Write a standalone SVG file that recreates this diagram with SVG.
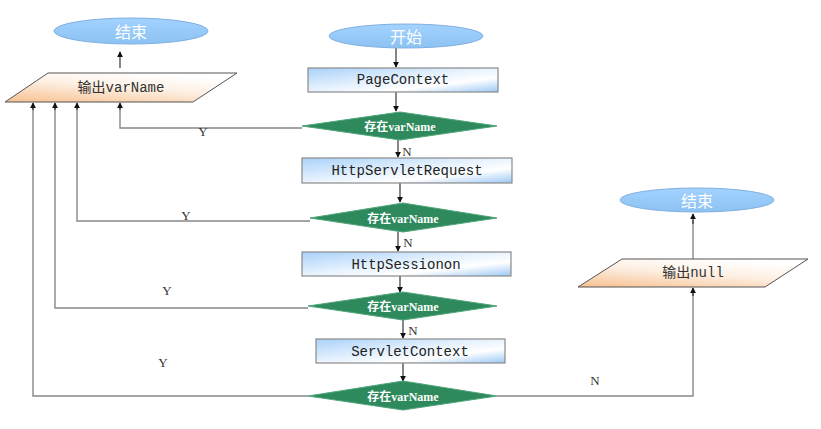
<svg xmlns="http://www.w3.org/2000/svg" width="821" height="429" viewBox="0 0 821 429">
<defs>
  <linearGradient id="gEll" x1="0" y1="0" x2="0" y2="1">
    <stop offset="0" stop-color="#a3d2ff"/>
    <stop offset="1" stop-color="#8cc2f2"/>
  </linearGradient>
  <linearGradient id="gRect" x1="0" y1="0" x2="1" y2="1">
    <stop offset="0" stop-color="#a9d1fa"/>
    <stop offset="0.45" stop-color="#e4f1fd"/>
    <stop offset="0.7" stop-color="#ffffff"/>
    <stop offset="1" stop-color="#9cc8f5"/>
  </linearGradient>
  <linearGradient id="gPara" x1="0" y1="1" x2="0.6" y2="0">
    <stop offset="0" stop-color="#f7c08f"/>
    <stop offset="0.6" stop-color="#fdf0e4"/>
    <stop offset="1" stop-color="#ffffff"/>
  </linearGradient>
  <marker id="arr" viewBox="0 0 8 8" refX="7" refY="4" markerWidth="6" markerHeight="6" orient="auto" markerUnits="userSpaceOnUse">
    <path d="M0,0 L8,4 L0,8 Z" fill="#111"/>
  </marker>
  <style>
    .ell { fill: url(#gEll); stroke: #7fb0e0; stroke-width: 1; }
    .ellt { font-family: "Noto Sans CJK SC", sans-serif; font-size: 16px; fill: #ffffff; text-anchor: middle; dominant-baseline: central; }
    .rect { fill: url(#gRect); stroke: #8a8a8a; stroke-width: 1.2; }
    .rt { font-family: "Liberation Mono", "Noto Sans CJK SC", monospace; font-size: 14px; fill: #222; text-anchor: middle; dominant-baseline: central; }
    .para { fill: url(#gPara); stroke: #555; stroke-width: 1; }
    .pt { font-family: "Liberation Mono", "Noto Sans CJK SC", monospace; font-size: 14px; fill: #333; text-anchor: middle; dominant-baseline: central; }
    .dia { fill: #2e8a5c; stroke: #4fa57a; stroke-width: 1; }
    .dt { font-family: "Liberation Serif", "Noto Sans CJK SC", serif; font-size: 12px; font-weight: bold; fill: #ffffff; text-anchor: middle; dominant-baseline: central; }
    .ln { fill: none; stroke: #888; stroke-width: 1.4; }
    .ar { fill: none; stroke: #222; stroke-width: 1.1; marker-end: url(#arr); }
    .lbl { font-family: "Liberation Serif", serif; font-size: 13px; fill: #333; text-anchor: middle; dominant-baseline: central; }
  </style>
</defs>
<rect width="821" height="429" fill="#ffffff"/>

<g id="connectors">
  <line class="ar" x1="396" y1="48" x2="396" y2="67"/>
  <line class="ar" x1="396" y1="92" x2="396" y2="111"/>
  <line class="ar" x1="398" y1="140" x2="398" y2="157"/>
  <line class="ar" x1="400" y1="183" x2="400" y2="202"/>
  <line class="ar" x1="398" y1="232" x2="398" y2="251"/>
  <line class="ar" x1="400" y1="276" x2="400" y2="292"/>
  <line class="ar" x1="403" y1="320" x2="403" y2="338"/>
  <line class="ar" x1="403" y1="363" x2="403" y2="381"/>
  <polyline class="ln" points="302,128 120,128 120,106"/>
  <line class="ar" x1="120" y1="110" x2="120" y2="103"/>
  <polyline class="ln" points="310,221 77,221 77,106"/>
  <line class="ar" x1="77" y1="110" x2="77" y2="103"/>
  <polyline class="ln" points="308,308 55,308 55,106"/>
  <line class="ar" x1="55" y1="110" x2="55" y2="103"/>
  <polyline class="ln" points="308,396 33,396 33,106"/>
  <line class="ar" x1="33" y1="110" x2="33" y2="103"/>
  <polyline class="ln" points="497,396 693,396 693,292"/>
  <line class="ar" x1="693" y1="296" x2="693" y2="288"/>
  <line class="ar" x1="120" y1="68" x2="120" y2="52"/>
  <line class="ln" x1="693" y1="259" x2="693" y2="220"/>
  <line class="ar" x1="693" y1="224" x2="693" y2="214"/>
  <text class="lbl" x="407" y="151">N</text>
  <text class="lbl" x="408" y="242">N</text>
  <text class="lbl" x="413" y="330">N</text>
  <text class="lbl" x="595" y="380">N</text>
  <text class="lbl" x="203" y="131">Y</text>
  <text class="lbl" x="186" y="215">Y</text>
  <text class="lbl" x="167" y="290">Y</text>
  <text class="lbl" x="163" y="362">Y</text>
</g>

<g id="end1">
  <ellipse class="ell" cx="131" cy="31" rx="77" ry="13"/>
  <text class="ellt" x="131" y="31">结束</text>
</g>
<g id="out-varname">
  <polygon class="para" points="48,73 237,73 193,102 5,102"/>
  <text class="pt" x="121" y="88">输出varName</text>
</g>
<g id="start">
  <ellipse class="ell" cx="406" cy="36" rx="77" ry="12"/>
  <text class="ellt" x="406" y="36">开始</text>
</g>
<g id="pagecontext">
  <rect class="rect" x="308" y="68" width="190" height="24"/>
  <text class="rt" x="403" y="80">PageContext</text>
</g>
<g id="d1">
  <polygon class="dia" points="302,126 400,112 497,126 400,140"/>
  <text class="dt" x="400" y="127">存在varName</text>
</g>
<g id="request">
  <rect class="rect" x="302" y="158" width="210" height="25"/>
  <text class="rt" x="407" y="171">HttpServletRequest</text>
</g>
<g id="d2">
  <polygon class="dia" points="310,218 403,203 497,218 403,232"/>
  <text class="dt" x="403" y="219">存在varName</text>
</g>
<g id="session">
  <rect class="rect" x="302" y="252" width="209" height="24"/>
  <text class="rt" x="406" y="265">HttpSessionon</text>
</g>
<g id="d3">
  <polygon class="dia" points="308,306 403,292 497,306 403,320"/>
  <text class="dt" x="403" y="307">存在varName</text>
</g>
<g id="servletcontext">
  <rect class="rect" x="316" y="339" width="189" height="24"/>
  <text class="rt" x="410" y="352">ServletContext</text>
</g>
<g id="d4">
  <polygon class="dia" points="308,396 403,381 497,396 403,410"/>
  <text class="dt" x="403" y="397">存在varName</text>
</g>
<g id="out-null">
  <polygon class="para" points="622,259 808,259 765,287 578,287"/>
  <text class="pt" x="693" y="273">输出null</text>
</g>
<g id="end2">
  <ellipse class="ell" cx="697" cy="200" rx="77" ry="12"/>
  <text class="ellt" x="697" y="200">结束</text>
</g>
</svg>
